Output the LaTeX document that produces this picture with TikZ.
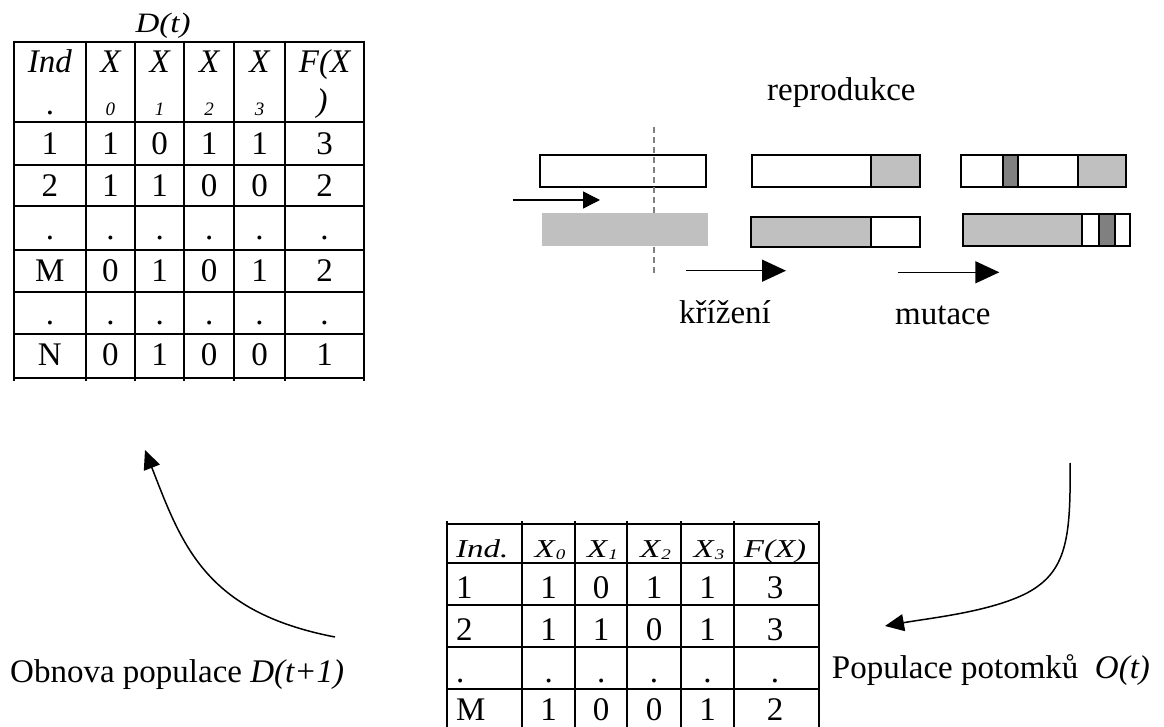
\documentclass[tikz,border=0pt]{standalone}
\usepackage{fontspec}
\usepackage{graphicx}
\setmainfont{Liberation Serif}
\usetikzlibrary{arrows.meta}
\definecolor{lgray}{HTML}{C0C0C0}
\definecolor{dgray}{HTML}{808080}

\begin{document}
\begin{tikzpicture}[x=1pt,y=-1pt,
  txt/.style={inner sep=0pt, anchor=base, font=\fontsize{33}{36}\selectfont},
  txtl/.style={txt, anchor=base west},
  grid/.style={line width=2pt, black},
  bar/.style={draw=black, line width=2pt},
  cut/.style={draw=dgray, line width=2pt, dash pattern=on 6pt off 4pt},
  arr/.style={line width=1.5pt, -{Triangle[length=17pt,width=17pt]}},
  bigarr/.style={line width=1.5pt, -{Triangle[length=24pt,width=22pt]}},
  curv/.style={line width=1.5pt, -{Triangle[length=19pt,width=17pt]}},
]
\useasboundingbox (0,0) rectangle (1164,727);

% ---------------- population D(t) ----------------
\node[txt] (Dt) at (163,33) {\scalebox{1}[0.85]{\itshape D(t)}};
\foreach \y in {41.7,122.3,165,206,250,292.3,334.3,378.3}
  \draw[grid] (13,\y) -- (365,\y);
\foreach \x in {14,85.7,135,184.3,234,285,364}
  \draw[grid] (\x,40.7) -- (\x,381);
% header, first line
\node[txt] (hI)  at (49.9,73) {\itshape Ind};
\node[txt] (hX0) at (110.4,73) {\itshape X};
\node[txt] (hX1) at (159.7,73) {\itshape X};
\node[txt] (hX2) at (209.2,73) {\itshape X};
\node[txt] (hX3) at (259.5,73) {\itshape X};
\node[txt] (hF)  at (324.5,73) {\itshape F(X};
% header, second line
\node[txt] (hIb)  at (49.9,115) {.};
\node[txt, font=\fontsize{19}{20}\selectfont\itshape] (hs0) at (110.4,116) {0};
\node[txt, font=\fontsize{19}{20}\selectfont\itshape] (hs1) at (159.7,116) {1};
\node[txt, font=\fontsize{19}{20}\selectfont\itshape] (hs2) at (209.2,116) {2};
\node[txt, font=\fontsize{19}{20}\selectfont\itshape] (hs3) at (259.5,116) {3};
\node[txt] (hFb) at (322,112) {\itshape )};
% rows
\foreach \r/\yb/\a/\b/\c/\d/\e/\f in {1/155/1/1/0/1/1/3, 2/197/2/1/1/0/0/2,
    3/240/./././././., 4/282/M/0/1/0/1/2, 5/324/./././././., 6/365/N/0/1/0/0/1}{
  \node[txt] (t\r-a) at (49.9,\yb) {\a};
  \node[txt] (t\r-b) at (110.4,\yb) {\b};
  \node[txt] (t\r-c) at (159.7,\yb) {\c};
  \node[txt] (t\r-d) at (209.2,\yb) {\d};
  \node[txt] (t\r-e) at (259.5,\yb) {\e};
  \node[txt] (t\r-f) at (324.5,\yb) {\f};
}

% ---------------- reproduction ----------------
\node[txtl] (repro) at (767,101) {reprodukce};

% crossover: parents and cut point
\draw[bar, fill=white] (540,155) rectangle (705.7,186.7);
\draw[cut] (654.3,127) -- (654.3,275);
\fill[lgray] (541.7,213.3) rectangle (708.3,246);
\coordinate (inS) at (512.7,200);
\coordinate (inE) at (600,200);
\draw[arr] (inS) -- (inE);

% offspring after crossover
\fill[lgray] (870.7,155) rectangle (920,186.7);
\draw[bar] (752.3,155) rectangle (920,186.7);
\draw[bar] (870.7,155) -- (870.7,186.7);
\fill[lgray] (750.7,216.7) rectangle (870.7,247.5);
\draw[bar] (750.7,216.7) rectangle (920,247.5);
\draw[bar] (870.7,216.7) -- (870.7,247.5);

% offspring after mutation
\fill[dgray] (1002.7,155) rectangle (1018.3,186.7);
\fill[lgray] (1078.3,155) rectangle (1126,186.7);
\draw[bar] (960.7,155) rectangle (1126,186.7);
\foreach \x in {1002.7,1018.3,1078.3}
  \draw[bar] (\x,155) -- (\x,186.7);
\fill[lgray] (962.7,214) rectangle (1082.3,245.7);
\fill[dgray] (1099.3,214) rectangle (1115,245.7);
\draw[bar] (962.7,214) rectangle (1130,245.7);
\foreach \x in {1082.3,1099.3,1115}
  \draw[bar] (\x,214) -- (\x,245.7);

\coordinate (krS) at (686,270.7);
\coordinate (krE) at (786,270.7);
\draw[bigarr] (krS) -- (krE);
\coordinate (muS) at (898.3,272.3);
\coordinate (muE) at (999.3,272.3);
\draw[bigarr] (muS) -- (muE);
\node[txtl] (krizeni) at (679,323) {křížení};
\node[txtl] (mutace) at (895,324) {mutace};

% ---------------- offspring population O(t) ----------------
\foreach \y in {524,563.3,605,646.7,689}
  \draw[grid] (445.7,\y) -- (820,\y);
\foreach \x in {446.7,522.3,575,627.3,680.7,734.3,819}
  \draw[grid] (\x,521) -- (\x,727);
\newcommand{\hdr}[1]{\scalebox{1}[0.78]{#1}}
\newcommand{\xsub}[1]{\textit{X}\raisebox{-3pt}{\fontsize{19}{20}\selectfont\itshape #1}}
\node[txtl] (oI)  at (456,557) {\hdr{\itshape Ind.}};
\node[txt]  (oX0) at (550,557) {\hdr{\xsub{0}}};
\node[txt]  (oX1) at (602.5,557) {\hdr{\xsub{1}}};
\node[txt]  (oX2) at (655.5,557) {\hdr{\xsub{2}}};
\node[txt]  (oX3) at (709,557) {\hdr{\xsub{3}}};
\node[txt]  (oF)  at (775,557) {\hdr{\itshape F(X)}};
\foreach \r/\yb/\a/\b/\c/\d/\e/\f in {1/598/1/1/0/1/1/3, 2/640/2/1/1/0/1/3,
    3/682/./././././., 4/720/M/1/0/0/1/2}{
  \node[txtl] (o\r-a) at (456,\yb) {\a};
  \node[txt]  (o\r-b) at (548.7,\yb) {\b};
  \node[txt]  (o\r-c) at (601.2,\yb) {\c};
  \node[txt]  (o\r-d) at (654,\yb) {\d};
  \node[txt]  (o\r-e) at (707.5,\yb) {\e};
  \node[txt]  (o\r-f) at (775,\yb) {\f};
}

% ---------------- cycle labels and arrows ----------------
\node[txtl] (obnova) at (10,682) {Obnova populace \textit{D(t+1)}};
\node[txtl] (potomci) at (831.7,678) {Populace potomků \ \textit{O(t)}};

\coordinate (obS) at (335,637);
\coordinate (obT) at (145,450);
\draw[curv] (obS) .. controls (205,612) and (182,545) .. (obT);

\coordinate (poS) at (1070,463);
\coordinate (poM) at (1027,593);
\coordinate (poT) at (885,626);
\draw[curv] (poS) .. controls (1071,540) and (1066,572) .. (poM)
            .. controls (990,612) and (930,618) .. (poT);
\end{tikzpicture}
\end{document}
